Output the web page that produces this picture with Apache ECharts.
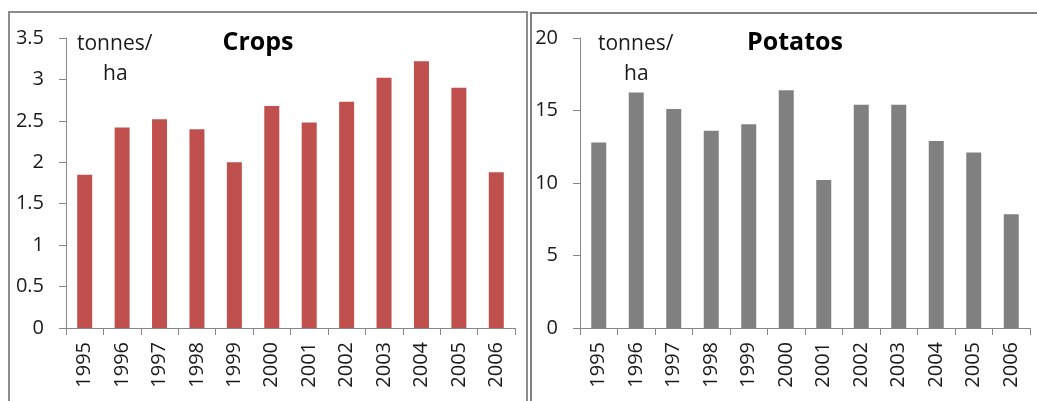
<!DOCTYPE html>
<html>
<head>
<meta charset="utf-8">
<script src="https://cdn.jsdelivr.net/npm/echarts@6/dist/echarts.min.js"></script>
<style>
  html, body { margin: 0; padding: 0; background: #fff; }
  #chart { width: 1037px; height: 401px; }
</style>
</head>
<body>
<div id="chart"></div>
<script>
const years = ['1995', '1996', '1997', '1998', '1999', '2000', '2001', '2002', '2003', '2004', '2005', '2006'];
const cropsYield = [1.85, 2.42, 2.52, 2.40, 2.00, 2.68, 2.48, 2.73, 3.02, 3.22, 2.90, 1.88];
const potatoYield = [12.8, 16.25, 15.1, 13.6, 14.05, 16.4, 10.2, 15.4, 15.4, 12.9, 12.1, 7.85];
const cropsTicks = { min: 0, max: 3.5, interval: 0.5 };
const potatoTicks = { min: 0, max: 20, interval: 5 };

const font = 'Open Sans';
const labelColor = '#1a1a1a';
const axisColor = '#878787';

function xAxisFor(gridIndex) {
  return {
    type: 'category',
    gridIndex: gridIndex,
    data: years,
    axisLine: { lineStyle: { color: axisColor, width: 1 } },
    axisTick: { show: true, length: 7, lineStyle: { color: axisColor } },
    axisLabel: { rotate: 90, margin: 14, fontFamily: font, fontSize: 20, color: labelColor }
  };
}

function yAxisFor(gridIndex, ticks) {
  return {
    type: 'value',
    gridIndex: gridIndex,
    min: ticks.min,
    max: ticks.max,
    interval: ticks.interval,
    splitLine: { show: false },
    axisLine: { show: true, lineStyle: { color: axisColor, width: 1 } },
    axisTick: { show: true, length: 7, lineStyle: { color: axisColor } },
    axisLabel: { margin: 22, fontFamily: font, fontSize: 20, color: labelColor }
  };
}

const chart = echarts.init(document.getElementById('chart'));
chart.setOption({
  animation: false,
  title: [
    { text: 'Crops', left: 253, top: 25, textAlign: 'center',
      textStyle: { fontFamily: font, fontSize: 25, fontWeight: 'bold', color: '#000' } },
    { text: 'Potatos', left: 790, top: 25, textAlign: 'center',
      textStyle: { fontFamily: font, fontSize: 25, fontWeight: 'bold', color: '#000' } }
  ],
  grid: [
    { left: 66, top: 38, width: 449, height: 290 },
    { left: 580, top: 38, width: 450, height: 290 }
  ],
  xAxis: [xAxisFor(0), xAxisFor(1)],
  yAxis: [yAxisFor(0, cropsTicks), yAxisFor(1, potatoTicks)],
  graphic: [
    { type: 'rect', shape: { x: 9, y: 12, width: 518, height: 420 },
      style: { fill: 'none', stroke: '#8c8c8c', lineWidth: 2 }, silent: true },
    { type: 'rect', shape: { x: 531, y: 13, width: 520, height: 420 },
      style: { fill: 'none', stroke: '#808080', lineWidth: 2 }, silent: true },
    { type: 'text', left: 77, top: 34,
      style: { text: 'tonnes/', fontFamily: font, fontSize: 21, fill: labelColor } },
    { type: 'text', left: 103, top: 64,
      style: { text: 'ha', fontFamily: font, fontSize: 21, fill: labelColor } },
    { type: 'text', left: 598, top: 34,
      style: { text: 'tonnes/', fontFamily: font, fontSize: 21, fill: labelColor } },
    { type: 'text', left: 624, top: 64,
      style: { text: 'ha', fontFamily: font, fontSize: 21, fill: labelColor } }
  ],
  series: [
    { name: 'Crops', type: 'bar', xAxisIndex: 0, yAxisIndex: 0, data: cropsYield,
      barWidth: 15, itemStyle: { color: '#C0504D' } },
    { name: 'Potatos', type: 'bar', xAxisIndex: 1, yAxisIndex: 1, data: potatoYield,
      barWidth: 15, itemStyle: { color: '#808080' } }
  ]
});
</script>
</body>
</html>
